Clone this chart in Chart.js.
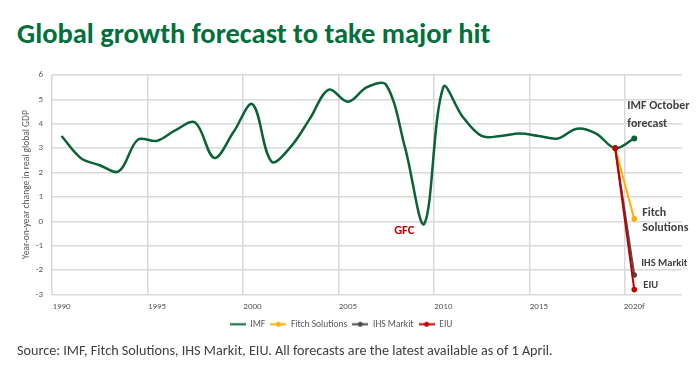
<!DOCTYPE html>
<html>
<head>
<meta charset="utf-8">
<script src="https://cdn.jsdelivr.net/npm/chart.js@4.4.1/dist/chart.umd.min.js"></script>
<style>
  html, body { margin: 0; padding: 0; background: #fff; }
  #wrap { position: relative; width: 700px; height: 368px; overflow: hidden; font-family: Carlito, Lato, sans-serif; }
  #title { position: absolute; left: 17px; top: 16px; font-size: 28.5px; font-weight: bold; color: #00703c; white-space: nowrap; }
  #source { position: absolute; left: 17px; top: 341px; font-size: 14.2px; color: #404040; white-space: nowrap; }
  canvas { position: absolute; left: 0; top: 0; }
</style>
</head>
<body>
<div id="wrap">
  <div id="title">Global growth forecast to take major hit</div>
  <canvas id="chart" width="700" height="368"></canvas>
  <div id="source">Source: IMF, Fitch Solutions, IHS Markit, EIU. All forecasts are the latest available as of 1 April.</div>
</div>
<script>
// categories (two empty slots after 2020f, as in the original)
const years = ['1990','1991','1992','1993','1994','1995','1996','1997','1998','1999',
  '2000','2001','2002','2003','2004','2005','2006','2007','2008','2009',
  '2010','2011','2012','2013','2014','2015','2016','2017','2018','2019',
  '2020f','2021','2022'];

// IMF actuals 1990-2019 + October forecast for 2020
const imf = [3.5, 2.6, 2.3, 2.05, 3.35, 3.3, 3.75, 4.05, 2.6, 3.65,
  4.8, 2.45, 3.05, 4.2, 5.4, 4.9, 5.5, 5.6, 3.0, -0.1,
  5.5, 4.3, 3.5, 3.5, 3.6, 3.5, 3.4, 3.8, 3.6, 3.0, 3.4];

// latest forecasts, drawn from 2019 to 2020f
const forecastYears = ['2019', '2020f'];
const fitch = [3.0, 0.1];
const ihs = [3.0, -2.2];
const eiu = [3.0, -2.8];

const yTicks = [-3, -2, -1, 0, 1, 2, 3, 4, 5, 6];

const FONT = 'Carlito, Lato, sans-serif';
const GREEN = '#0a6236';
const FITCH = '#ffb000';
const IHS = '#4a4a4a';
const EIU = '#c00000';

const pairs = vals => forecastYears.map((yr, i) => ({ x: yr, y: vals[i] }));

// little line+dot swatches for the legend
function swatch(color, dot) {
  const c = document.createElement('canvas');
  c.width = 16; c.height = 7;
  const g = c.getContext('2d');
  g.strokeStyle = color; g.lineWidth = 2;
  g.beginPath(); g.moveTo(0, 3.5); g.lineTo(16, 3.5); g.stroke();
  if (dot) { g.fillStyle = color; g.beginPath(); g.arc(8, 3.5, 2.5, 0, Math.PI * 2); g.fill(); }
  return c;
}
const swatches = [swatch(GREEN, false), swatch(FITCH, true), swatch(IHS, true), swatch(EIU, true)];

const notes = {
  id: 'notes',
  afterDatasetsDraw(chart) {
    const { ctx, scales: { x, y } } = chart;
    const px = yr => x.getPixelForValue(years.indexOf(yr));
    const put = (text, tx, ty, color, size, align) => {
      ctx.font = 'bold ' + size + 'px ' + FONT;
      ctx.fillStyle = color;
      ctx.textAlign = align || 'left';
      ctx.fillText(text, tx, ty);
    };
    ctx.save();
    ctx.textBaseline = 'middle';
    put('GFC', px('2009') - 20, y.getPixelForValue(-0.1) + 7, '#c00000', 12.5, 'center');
    const x20 = px('2020f');
    const yImf = y.getPixelForValue(imf[imf.length - 1]);
    put('IMF October', x20 - 7, yImf - 32, '#404040', 12);
    put('forecast', x20 - 7, yImf - 14, '#404040', 12);
    const yF = y.getPixelForValue(fitch[1]);
    put('Fitch', x20 + 8, yF - 6, '#404040', 12);
    put('Solutions', x20 + 8, yF + 9, '#404040', 12);
    put('IHS Markit', x20 + 7, y.getPixelForValue(ihs[1]) - 12, '#404040', 10.5);
    put('EIU', x20 + 9, y.getPixelForValue(eiu[1]) - 4, '#404040', 10.5);
    ctx.restore();
  }
};

new Chart(document.getElementById('chart'), {
  type: 'line',
  data: {
    labels: years,
    datasets: [
      {
        label: 'IMF', data: imf, borderColor: GREEN, backgroundColor: GREEN,
        borderWidth: 2.5, tension: 0.35, order: 3,
        pointRadius: ctx => ctx.dataIndex === imf.length - 1 ? 3 : 0,
        pointBorderWidth: 0
      },
      {
        label: 'Fitch Solutions', data: pairs(fitch), borderColor: FITCH, backgroundColor: FITCH,
        borderWidth: 2, tension: 0, pointRadius: 2.8, pointBorderWidth: 0, order: 2
      },
      {
        label: 'IHS Markit', data: pairs(ihs), borderColor: IHS, backgroundColor: IHS,
        borderWidth: 2, tension: 0, pointRadius: 2.8, pointBorderWidth: 0, order: 1
      },
      {
        label: 'EIU', data: pairs(eiu), borderColor: EIU, backgroundColor: EIU,
        borderWidth: 2, tension: 0, pointRadius: 2.8, pointBorderWidth: 0, order: 0
      }
    ]
  },
  options: {
    responsive: false,
    animation: false,
    layout: { padding: { left: 0, top: 75, right: 18, bottom: 29 } },
    scales: {
      x: {
        offset: true,
        border: { display: false },
        grid: {
          offset: true, drawTicks: false, lineWidth: 1.5,
          color: ctx => ctx.index % 5 === 0 ? '#d9d9d9' : 'rgba(0,0,0,0)'
        },
        ticks: {
          autoSkip: false, maxRotation: 0, padding: 7, color: '#595959',
          font: { family: FONT, size: 9 },
          callback: function (v, i) { return i % 5 === 0 ? this.getLabelForValue(v) : ''; }
        },
        afterFit: s => { s.height = 20; }
      },
      y: {
        min: -3, max: 6,
        border: { display: false },
        grid: { color: '#d9d9d9', lineWidth: 1.5, drawTicks: false },
        afterBuildTicks: s => { s.ticks = yTicks.map(v => ({ value: v })); },
        ticks: { padding: 9, color: '#595959', font: { family: FONT, size: 9 } },
        title: {
          display: true, text: 'Year-on-year change in real global GDP',
          color: '#595959', font: { family: FONT, size: 9.5 }, padding: { top: 21, bottom: 0 }
        },
        afterFit: s => { s.width = 52; }
      }
    },
    plugins: {
      tooltip: { enabled: false },
      legend: {
        position: 'bottom',
        labels: {
          usePointStyle: true, pointStyleWidth: 16, padding: 5,
          color: '#595959', font: { family: FONT, size: 9.5 },
          sort: (a, b) => a.datasetIndex - b.datasetIndex,
          generateLabels: chart => Chart.defaults.plugins.legend.labels.generateLabels(chart)
            .map(item => Object.assign(item, { pointStyle: swatches[item.datasetIndex] }))
        }
      }
    }
  },
  plugins: [notes]
});
</script>
</body>
</html>
